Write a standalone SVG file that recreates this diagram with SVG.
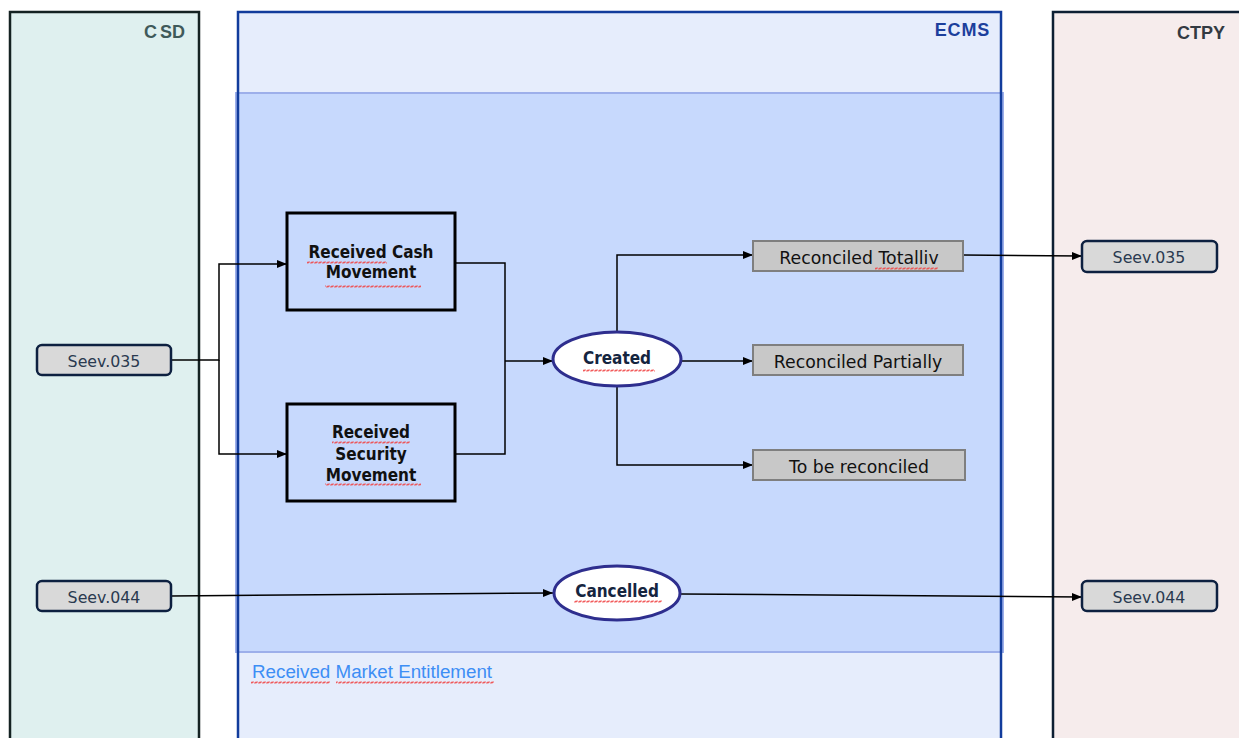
<svg xmlns="http://www.w3.org/2000/svg" width="1239" height="738" viewBox="0 0 1239 738">
<style>
.lbl{font-family:"Liberation Sans",Arial,sans-serif;font-weight:bold;font-size:18px;text-anchor:end}
.bx{fill:#c7d9fd;stroke:#000;stroke-width:3}
.bt{font-family:"DejaVu Sans Condensed","DejaVu Sans",Verdana,sans-serif;font-weight:bold;font-size:17px;fill:#111;text-anchor:middle}
.st{fill:#fff;stroke:#2e2e8e;stroke-width:3}
.stt{font-family:"DejaVu Sans Condensed","DejaVu Sans",Verdana,sans-serif;font-weight:bold;font-size:17px;fill:#15253f;text-anchor:middle}
.gr{fill:#c8c8c8;stroke:#7f7f7f;stroke-width:2}
.gt{font-family:"DejaVu Sans",Verdana,sans-serif;font-size:17.3px;fill:#111;text-anchor:middle}
.sv{fill:#d9d9d9;stroke:#0d2040;stroke-width:2.5}
.svt{font-family:"DejaVu Sans",Verdana,sans-serif;font-size:15.8px;fill:#2a3a50;text-anchor:middle}
.cn{fill:none;stroke:#000;stroke-width:1.5}
.sq{fill:url(#wave)}
</style>
<defs>
<marker id="ah" viewBox="0 0 10 10" refX="10" refY="5" markerWidth="10" markerHeight="10" markerUnits="userSpaceOnUse" orient="auto">
<path d="M0,1 L10,5 L0,9 Z" fill="#000"/>
</marker>
<pattern id="wave" width="4" height="3" patternUnits="userSpaceOnUse">
<path d="M0,2.5 L1,0.5 L3,2.5 L4,0.5" fill="none" stroke="#f04a4a" stroke-width="0.9"/>
</pattern>
</defs>

<g id="lane-csd">
<rect x="10" y="12" width="189" height="760" fill="#dff0ef" stroke="#142222" stroke-width="2.5"/>
<text class="lbl" x="185" y="38" fill="#3f5a5a">C<tspan dx="3">SD</tspan></text>
</g>
<g id="lane-ecms">
<rect x="238" y="12" width="763" height="760" fill="#e6edfc"/>
<rect x="236" y="93" width="767" height="559" fill="#c7d9fd" stroke="#9dafea" stroke-width="2"/>
<rect x="238" y="12" width="763" height="760" fill="none" stroke="#123c9c" stroke-width="2.5"/>
<text class="lbl" x="990" y="36" fill="#1c3f9c" letter-spacing="0.8">ECMS</text>
<text x="252" y="678" font-family="Liberation Sans,Arial,sans-serif" font-size="18.8px" fill="#3d8ef5">Received Market Entitlement</text>
<rect class="sq" x="251" y="681" width="79" height="3"/>
<rect class="sq" x="336" y="681" width="158" height="3"/>
</g>
<g id="lane-ctpy">
<rect x="1053" y="12" width="200" height="760" fill="#f6ecec" stroke="#0d1f33" stroke-width="2.5"/>
<text class="lbl" x="1225" y="39" fill="#333a42">CTPY</text>
</g>

<g id="connectors">
<path class="cn" d="M171,360 H219 V264 H287" marker-end="url(#ah)"/>
<path class="cn" d="M219,360 V454 H287" marker-end="url(#ah)"/>
<path class="cn" d="M455,263 H505 V454 H455"/>
<path class="cn" d="M505,361 H553" marker-end="url(#ah)"/>
<path class="cn" d="M617,331 V255 H753" marker-end="url(#ah)"/>
<path class="cn" d="M681,361 H753" marker-end="url(#ah)"/>
<path class="cn" d="M617,385 V465 H753" marker-end="url(#ah)"/>
<path class="cn" d="M963,255 L1082,256" marker-end="url(#ah)"/>
<path class="cn" d="M171,596 L553,593" marker-end="url(#ah)"/>
<path class="cn" d="M681,594 L1082,597" marker-end="url(#ah)"/>
</g>

<g id="node-cash">
<rect class="bx" x="287" y="213" width="168" height="97"/>
<text class="bt" x="371" y="258">Received Cash</text>
<text class="bt" x="371" y="278">Movement</text>
<rect class="sq" x="307" y="261" width="80" height="3"/>
<rect class="sq" x="325" y="285" width="96" height="3"/>
</g>
<g id="node-security">
<rect class="bx" x="287" y="404" width="168" height="97"/>
<text class="bt" x="371" y="438">Received</text>
<text class="bt" x="371" y="460">Security</text>
<text class="bt" x="371" y="481">Movement</text>
<rect class="sq" x="332" y="441" width="78" height="3"/>
<rect class="sq" x="325" y="483" width="96" height="3"/>
</g>
<g id="node-created">
<ellipse class="st" cx="617" cy="359" rx="64" ry="27"/>
<text class="stt" x="617" y="364">Created</text>
<rect class="sq" x="583" y="369" width="72" height="3"/>
</g>
<g id="node-cancelled">
<ellipse class="st" cx="617" cy="593" rx="63" ry="27"/>
<text class="stt" x="617" y="597">Cancelled</text>
<rect class="sq" x="574" y="600" width="88" height="3"/>
</g>
<g id="node-rec-total">
<rect class="gr" x="753" y="241" width="210" height="30"/>
<text class="gt" x="859" y="264">Reconciled Totalliv</text>
<rect class="sq" x="875" y="267" width="63" height="3"/>
</g>
<g id="node-rec-partial">
<rect class="gr" x="753" y="345" width="210" height="30"/>
<text class="gt" x="858" y="368">Reconciled Partially</text>
</g>
<g id="node-to-be">
<rect class="gr" x="753" y="450" width="212" height="30"/>
<text class="gt" x="859" y="473">To be reconciled</text>
</g>
<g id="node-csd-035">
<rect class="sv" x="37" y="345" width="134" height="30" rx="5"/>
<text class="svt" x="104" y="367">Seev.035</text>
</g>
<g id="node-csd-044">
<rect class="sv" x="37" y="581" width="134" height="30" rx="5"/>
<text class="svt" x="104" y="603">Seev.044</text>
</g>
<g id="node-ctpy-035">
<rect class="sv" x="1082" y="241" width="135" height="31" rx="5"/>
<text class="svt" x="1149" y="263">Seev.035</text>
</g>
<g id="node-ctpy-044">
<rect class="sv" x="1082" y="581" width="135" height="30" rx="5"/>
<text class="svt" x="1149" y="603">Seev.044</text>
</g>
</svg>
